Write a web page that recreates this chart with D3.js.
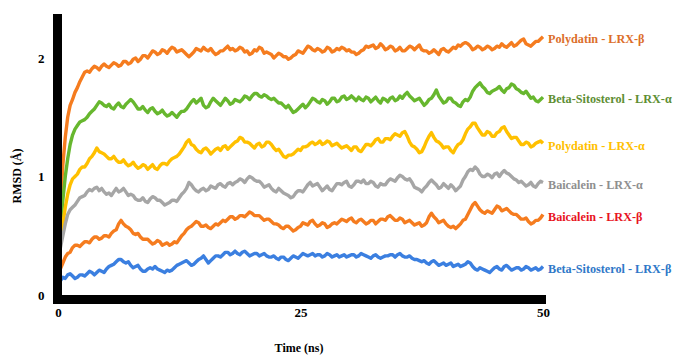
<!DOCTYPE html>
<html><head><meta charset="utf-8">
<script src="https://cdn.jsdelivr.net/npm/d3@7"></script>
<style>body{margin:0;background:#fff}svg{display:block}</style>
</head><body><svg id="c" width="677" height="355"></svg>
<script>
const seriesNames = ["Polydatin - LRX-β","Beta-Sitosterol - LRX-α","Polydatin - LRX-α","Baicalein - LRX-α","Baicalein - LRX-β","Beta-Sitosterol - LRX-β"];
const timeStepNs = 0.5;   // main samples every 0.5 ns, half-step samples in *Mid arrays
const xTicks = [0,25,50];
const yTicks = [0,1,2];
const polydatinB = [0.35,1.1,1.5,1.65,1.75,1.84,1.89,1.91,1.92,1.93,1.93,1.94,1.95,1.94,1.97,1.96,2.0,1.99,2.02,2.03,2.05,2.04,2.06,2.07,2.08,2.06,2.05,2.01,2.05,2.07,2.09,2.06,2.05,2.04,2.06,2.1,2.08,2.07,2.08,2.06,2.04,2.06,2.08,2.05,2.03,2.02,2.03,2.01,2.0,2.03,2.05,2.07,2.09,2.06,2.07,2.06,2.08,2.06,2.07,2.08,2.07,2.05,2.04,2.07,2.09,2.11,2.09,2.1,2.08,2.09,2.07,2.06,2.08,2.09,2.09,2.07,2.06,2.05,2.05,2.07,2.06,2.07,2.08,2.1,2.13,2.1,2.08,2.09,2.08,2.09,2.08,2.09,2.1,2.11,2.1,2.13,2.16,2.11,2.12,2.14,2.18];
const polydatinBMid = [0.75,1.33,1.6,1.71,1.8,1.88,1.88,1.93,1.9,1.95,1.92,1.96,1.93,1.97,1.95,1.99,1.97,2.02,2.0,2.06,2.03,2.07,2.04,2.09,2.05,2.07,2.03,2.03,2.08,2.06,2.07,2.08,2.03,2.06,2.08,2.07,2.06,2.09,2.05,2.03,2.07,2.09,2.04,2.04,2.0,2.04,2.01,1.99,2.02,2.06,2.04,2.1,2.07,2.08,2.05,2.09,2.05,2.08,2.09,2.06,2.05,2.03,2.06,2.1,2.1,2.08,2.12,2.07,2.1,2.06,2.09,2.06,2.1,2.07,2.11,2.06,2.04,2.07,2.03,2.08,2.05,2.09,2.11,2.12,2.12,2.07,2.1,2.07,2.1,2.07,2.1,2.12,2.09,2.13,2.11,2.15,2.12,2.1,2.14,2.16];
const betaSitoA = [0.3,0.8,1.15,1.35,1.43,1.47,1.5,1.55,1.6,1.62,1.59,1.58,1.6,1.59,1.61,1.65,1.6,1.57,1.56,1.57,1.55,1.54,1.53,1.52,1.52,1.53,1.55,1.6,1.65,1.64,1.6,1.59,1.66,1.62,1.63,1.64,1.62,1.64,1.65,1.67,1.68,1.7,1.67,1.68,1.65,1.64,1.62,1.58,1.57,1.55,1.59,1.58,1.63,1.65,1.62,1.64,1.63,1.66,1.64,1.68,1.66,1.66,1.67,1.64,1.66,1.65,1.64,1.66,1.63,1.67,1.65,1.66,1.71,1.66,1.65,1.63,1.62,1.66,1.73,1.65,1.63,1.66,1.62,1.59,1.65,1.67,1.75,1.79,1.74,1.7,1.73,1.76,1.71,1.75,1.77,1.73,1.7,1.69,1.67,1.63,1.67];
const betaSitoAMid = [0.55,1.0,1.27,1.4,1.46,1.48,1.53,1.57,1.63,1.6,1.61,1.57,1.62,1.58,1.63,1.63,1.57,1.59,1.54,1.58,1.53,1.56,1.51,1.54,1.5,1.55,1.57,1.63,1.62,1.66,1.58,1.63,1.64,1.6,1.66,1.61,1.65,1.63,1.68,1.65,1.7,1.68,1.69,1.66,1.66,1.62,1.6,1.6,1.54,1.57,1.61,1.6,1.66,1.63,1.65,1.61,1.66,1.63,1.67,1.65,1.68,1.64,1.65,1.67,1.63,1.67,1.62,1.65,1.66,1.64,1.68,1.69,1.68,1.64,1.66,1.6,1.65,1.69,1.68,1.62,1.66,1.63,1.6,1.63,1.64,1.72,1.77,1.76,1.71,1.72,1.74,1.73,1.74,1.78,1.74,1.71,1.72,1.66,1.64,1.65];
const polydatinA = [0.3,0.6,0.85,0.98,1.02,1.08,1.11,1.17,1.24,1.2,1.17,1.15,1.14,1.12,1.11,1.1,1.09,1.08,1.09,1.08,1.07,1.09,1.11,1.13,1.16,1.19,1.25,1.31,1.26,1.21,1.23,1.22,1.21,1.24,1.25,1.23,1.27,1.3,1.32,1.29,1.26,1.27,1.25,1.29,1.27,1.22,1.2,1.16,1.18,1.21,1.22,1.25,1.28,1.27,1.3,1.28,1.29,1.27,1.26,1.25,1.24,1.25,1.22,1.24,1.27,1.28,1.32,1.29,1.32,1.34,1.35,1.37,1.34,1.26,1.23,1.21,1.3,1.37,1.3,1.27,1.25,1.22,1.24,1.28,1.36,1.42,1.45,1.38,1.35,1.37,1.34,1.38,1.42,1.35,1.33,1.3,1.27,1.28,1.26,1.29,1.28];
const polydatinAMid = [0.45,0.74,0.93,1.0,1.06,1.08,1.15,1.2,1.21,1.19,1.15,1.17,1.12,1.14,1.09,1.12,1.07,1.1,1.06,1.1,1.06,1.11,1.1,1.15,1.17,1.22,1.29,1.27,1.23,1.2,1.24,1.19,1.23,1.22,1.26,1.25,1.29,1.33,1.29,1.28,1.24,1.28,1.26,1.29,1.24,1.23,1.17,1.18,1.19,1.23,1.25,1.26,1.29,1.28,1.27,1.3,1.26,1.28,1.24,1.26,1.22,1.25,1.21,1.27,1.26,1.31,1.29,1.32,1.31,1.36,1.34,1.38,1.29,1.25,1.2,1.25,1.34,1.33,1.29,1.24,1.25,1.2,1.27,1.31,1.4,1.45,1.41,1.35,1.38,1.34,1.37,1.41,1.38,1.32,1.33,1.27,1.29,1.25,1.28,1.3];
const baicaleinA = [0.25,0.5,0.68,0.74,0.79,0.83,0.87,0.88,0.91,0.9,0.85,0.84,0.9,0.88,0.87,0.85,0.81,0.8,0.79,0.81,0.82,0.8,0.76,0.78,0.8,0.82,0.87,0.95,0.9,0.87,0.9,0.89,0.91,0.93,0.92,0.94,0.93,0.96,0.97,0.98,0.99,0.96,0.94,0.92,0.9,0.87,0.88,0.85,0.82,0.86,0.88,0.9,0.95,0.93,0.91,0.9,0.89,0.91,0.94,0.95,0.92,0.93,0.96,0.97,0.94,0.95,0.91,0.93,0.96,0.97,0.99,1.0,0.97,0.95,0.9,0.87,0.92,0.97,0.93,0.91,0.92,0.93,0.88,0.92,1.0,1.06,1.08,1.02,1.0,1.01,1.02,1.0,1.05,1.02,0.98,0.95,0.94,0.93,0.92,0.94,0.95];
const baicaleinAMid = [0.4,0.6,0.72,0.76,0.82,0.84,0.89,0.9,0.88,0.87,0.86,0.87,0.87,0.9,0.84,0.84,0.8,0.82,0.78,0.83,0.8,0.78,0.77,0.8,0.79,0.85,0.9,0.93,0.88,0.89,0.88,0.92,0.9,0.94,0.91,0.95,0.95,0.98,0.95,1.0,0.97,0.96,0.91,0.93,0.88,0.9,0.86,0.84,0.83,0.88,0.87,0.93,0.92,0.94,0.88,0.92,0.88,0.94,0.93,0.96,0.91,0.96,0.95,0.94,0.96,0.92,0.94,0.93,0.98,0.96,1.01,0.98,0.98,0.91,0.89,0.9,0.95,0.95,0.9,0.94,0.9,0.91,0.9,0.97,1.04,1.05,1.06,1.0,1.02,0.99,1.03,1.03,1.03,1.0,0.97,0.96,0.92,0.95,0.91,0.96];
const baicaleinB = [0.15,0.27,0.35,0.4,0.42,0.43,0.45,0.47,0.49,0.48,0.5,0.52,0.55,0.63,0.58,0.55,0.51,0.49,0.47,0.45,0.44,0.45,0.43,0.42,0.45,0.47,0.52,0.57,0.6,0.61,0.58,0.57,0.58,0.59,0.63,0.64,0.66,0.65,0.67,0.68,0.69,0.67,0.65,0.64,0.62,0.6,0.57,0.58,0.56,0.55,0.58,0.6,0.62,0.6,0.59,0.6,0.58,0.61,0.62,0.63,0.64,0.62,0.63,0.62,0.61,0.63,0.62,0.64,0.66,0.65,0.63,0.64,0.62,0.61,0.6,0.58,0.61,0.69,0.64,0.62,0.6,0.57,0.56,0.6,0.64,0.72,0.78,0.72,0.69,0.7,0.72,0.74,0.72,0.71,0.68,0.66,0.64,0.62,0.61,0.63,0.68];
const baicaleinBMid = [0.22,0.32,0.36,0.42,0.41,0.45,0.44,0.49,0.47,0.5,0.49,0.54,0.6,0.6,0.57,0.52,0.52,0.47,0.47,0.43,0.46,0.42,0.44,0.43,0.44,0.5,0.55,0.58,0.62,0.58,0.59,0.56,0.6,0.61,0.62,0.66,0.64,0.67,0.66,0.7,0.67,0.67,0.63,0.64,0.6,0.59,0.56,0.58,0.54,0.57,0.61,0.59,0.63,0.58,0.61,0.57,0.6,0.6,0.64,0.62,0.65,0.61,0.64,0.6,0.63,0.6,0.64,0.63,0.67,0.63,0.65,0.61,0.63,0.59,0.61,0.59,0.66,0.66,0.61,0.63,0.58,0.58,0.58,0.63,0.68,0.76,0.75,0.7,0.71,0.69,0.75,0.71,0.73,0.69,0.68,0.64,0.65,0.6,0.63,0.65];
const betaSitoB = [0.03,0.15,0.17,0.16,0.15,0.17,0.18,0.19,0.19,0.2,0.22,0.25,0.28,0.3,0.27,0.25,0.24,0.22,0.2,0.23,0.24,0.21,0.19,0.2,0.23,0.26,0.28,0.27,0.26,0.3,0.33,0.27,0.31,0.33,0.34,0.36,0.35,0.35,0.36,0.35,0.34,0.35,0.34,0.33,0.32,0.31,0.32,0.3,0.31,0.32,0.33,0.34,0.34,0.33,0.34,0.33,0.34,0.33,0.32,0.34,0.33,0.34,0.33,0.34,0.32,0.33,0.32,0.32,0.33,0.34,0.34,0.33,0.32,0.31,0.3,0.28,0.27,0.28,0.27,0.26,0.25,0.27,0.25,0.24,0.26,0.27,0.22,0.23,0.21,0.19,0.23,0.22,0.24,0.23,0.22,0.23,0.22,0.23,0.22,0.21,0.24];
const betaSitoBMid = [0.12,0.14,0.18,0.14,0.17,0.16,0.2,0.17,0.21,0.19,0.24,0.26,0.3,0.28,0.28,0.23,0.25,0.2,0.22,0.22,0.22,0.2,0.21,0.21,0.25,0.27,0.29,0.25,0.28,0.31,0.3,0.29,0.33,0.32,0.36,0.34,0.37,0.34,0.37,0.33,0.35,0.33,0.35,0.32,0.33,0.3,0.32,0.29,0.33,0.31,0.35,0.33,0.35,0.34,0.32,0.35,0.32,0.34,0.33,0.32,0.34,0.32,0.35,0.33,0.31,0.34,0.31,0.33,0.34,0.32,0.35,0.32,0.33,0.3,0.29,0.29,0.26,0.29,0.25,0.27,0.26,0.24,0.26,0.25,0.28,0.24,0.21,0.22,0.2,0.21,0.24,0.21,0.25,0.21,0.23,0.21,0.24,0.21,0.23,0.22];

const mainSeries = [polydatinB, betaSitoA, polydatinA, baicaleinA, baicaleinB, betaSitoB];
const midSeries = [polydatinBMid, betaSitoAMid, polydatinAMid, baicaleinAMid, baicaleinBMid, betaSitoBMid];
const lineColors = ["#F57C1F","#67B72E","#FFC000","#A6A6A6","#F57C1F","#3B7FE0"];
const labelColors = ["#DC6E2A","#5E8E33","#FFC000","#8F8F8F","#E8141E","#2F78C8"];
const FONT = "'Liberation Serif','Times New Roman','DejaVu Serif',serif";

// interleave main (t = i*0.5) and half-step (t = i*0.5+0.25) readings
function points(main, mid){
  const pts = [];
  main.forEach((v,i)=>{
    pts.push([i*timeStepNs, v]);
    if (i < mid.length && i < main.length-1) pts.push([i*timeStepNs + timeStepNs/2, mid[i]]);
  });
  return pts;
}

const svg = d3.select("#c");
svg.append("rect").attr("width",677).attr("height",355).attr("fill","#fff");
const x = d3.scaleLinear().domain([0,50]).range([58,543]);
const y = d3.scaleLinear().domain([0,2]).range([295,58]);

const line = d3.line().x(d=>x(d[0])).y(d=>y(d[1]));
mainSeries.forEach((s,k)=>{
  svg.append("path").datum(points(s, midSeries[k])).attr("d",line).attr("fill","none")
    .attr("stroke",lineColors[k]).attr("stroke-width",3.4).attr("stroke-linejoin","round");
});

// axes
const yAxis = svg.append("g").attr("transform","translate(57.5,0)")
  .call(d3.axisLeft(y).tickValues(yTicks).tickSize(0).tickPadding(13).tickFormat(d3.format("d")));
yAxis.select(".domain").remove();
yAxis.selectAll("text").attr("font-size",13).attr("fill","#000").attr("font-family",FONT).attr("font-weight","bold");
const xAxis = svg.append("g").attr("transform","translate(0,304)")
  .call(d3.axisBottom(x).tickValues(xTicks).tickSize(0).tickPadding(4).tickFormat(d3.format("d")));
xAxis.select(".domain").remove();
xAxis.selectAll("text").attr("font-size",13).attr("fill","#000").attr("font-family",FONT).attr("font-weight","bold");

svg.append("line").attr("x1",57.5).attr("x2",57.5).attr("y1",14).attr("y2",304).attr("stroke","#000").attr("stroke-width",9);
svg.append("line").attr("x1",53).attr("x2",546).attr("y1",299.5).attr("y2",299.5).attr("stroke","#000").attr("stroke-width",9);

svg.append("text").attr("transform","translate(21,176) rotate(-90)").attr("text-anchor","middle")
  .attr("font-family",FONT).attr("font-weight","bold")
  .attr("font-size",12).attr("fill","#000").text("RMSD (Å)");
svg.append("text").attr("x",299).attr("y",352).attr("text-anchor","middle")
  .attr("font-family",FONT).attr("font-weight","bold")
  .attr("font-size",12).attr("fill","#000").text("Time (ns)");

mainSeries.forEach((s,k)=>{
  svg.append("text").attr("x",548).attr("y",y(s[s.length-1])+2).attr("dy","0.35em")
    .attr("font-family",FONT).attr("font-weight","bold")
    .attr("font-size",12.2).attr("fill",labelColors[k]).text(seriesNames[k]);
});
</script></body></html>
